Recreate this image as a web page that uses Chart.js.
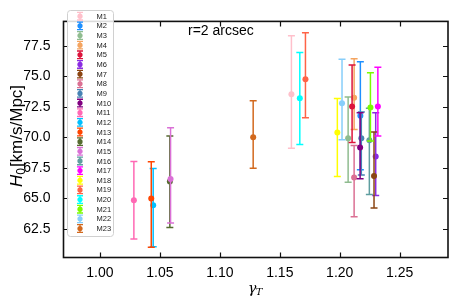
<!DOCTYPE html>
<html><head><meta charset="utf-8">
<script src="https://cdn.jsdelivr.net/npm/chart.js@4/dist/chart.umd.min.js"></script>
<style>html,body{margin:0;padding:0;background:#fff}canvas{display:block}</style>
</head><body>
<canvas id="c" width="457" height="306"></canvas>
<script>
const labels = ['M1','M2','M3','M4','M5','M6','M7','M8','M9','M10','M11','M12','M13','M14','M15','M16','M17','M18','M19','M20','M21','M22','M23'];
const gammaT = [1.1597,1.2172,1.2070,1.2120,1.2103,1.2300,1.2286,1.2120,1.2180,1.2170,1.0283,1.0444,1.0428,1.0583,1.0589,1.2247,1.2318,1.1980,1.1714,1.1667,1.2256,1.2019,1.1278];
const h0 = [73.53,71.76,69.92,73.23,72.53,68.43,66.83,66.70,69.92,69.17,64.84,64.43,64.97,66.37,66.58,69.75,72.53,70.39,74.76,73.20,72.45,72.79,70.00];
const h0Upper = [78.33,76.19,73.30,76.44,75.93,72.00,70.44,69.33,72.07,72.00,68.01,67.43,67.99,70.10,70.78,72.38,75.75,73.17,78.56,76.96,75.28,76.40,72.99];
const h0Lower = [69.10,67.33,66.31,70.64,69.56,65.23,64.20,63.48,66.90,66.60,61.65,61.03,60.98,62.60,62.96,65.30,70.10,66.78,71.60,69.40,69.70,69.79,67.45];
const colors = ['#FFC0CB','#1E90FF','#8FBC8F','#F4A460','#DC143C','#8A2BE2','#8B4513','#DB7093','#4682B4','#800080','#FF69B4','#00BFFF','#FF4500','#556B2F','#DA70D6','#5F9EA0','#FF00FF','#FFFF00','#FF6347','#00FFFF','#7CFC00','#87CEFA','#D2691E'];
const xTickValues = [1.00,1.05,1.10,1.15,1.20,1.25];
const xTickLabels = ['1.00','1.05','1.10','1.15','1.20','1.25'];
const yTickValues = [62.5,65.0,67.5,70.0,72.5,75.0,77.5];
const yTickLabels = ['62.5','65.0','67.5','70.0','72.5','75.0','77.5'];
const titleText = 'r=2 arcsec';

const FONT = '"Liberation Sans", Arial, sans-serif';
const N = labels.length;

const datasets = labels.map((lab, i) => ({
  label: lab,
  data: [{x: gammaT[i], y: h0[i]}],
  backgroundColor: colors[i],
  borderColor: colors[i],
  borderWidth: 0,
  pointRadius: 3,
  pointHoverRadius: 3,
  order: N - i
}));

function drawErrBar(ctx, x, yTop, yBot, color, cap, lw) {
  ctx.strokeStyle = color; ctx.lineWidth = lw;
  ctx.beginPath();
  ctx.moveTo(x, yTop); ctx.lineTo(x, yBot);
  ctx.moveTo(x - cap, yTop); ctx.lineTo(x + cap, yTop);
  ctx.moveTo(x - cap, yBot); ctx.lineTo(x + cap, yBot);
  ctx.stroke();
}

const errorBarPlugin = {
  id: 'errbars',
  beforeDatasetDraw(chart, args) {
    const i = args.index;
    const xs = chart.scales.x, ys = chart.scales.y, ctx = chart.ctx, a = chart.chartArea;
    ctx.save();
    ctx.beginPath(); ctx.rect(a.left, a.top, a.right - a.left, a.bottom - a.top); ctx.clip();
    const px = xs.getPixelForValue(gammaT[i]);
    drawErrBar(ctx, px, ys.getPixelForValue(h0Upper[i]), ys.getPixelForValue(h0Lower[i]), colors[i], 3.5, 1.5);
    ctx.restore();
  }
};

const decorPlugin = {
  id: 'decor',
  afterDraw(chart) {
    const ctx = chart.ctx, a = chart.chartArea, xs = chart.scales.x, ys = chart.scales.y;
    ctx.save();
    ctx.strokeStyle = '#111'; ctx.lineWidth = 1.2;
    ctx.beginPath();
    xTickValues.forEach(v => {
      const p = Math.round(xs.getPixelForValue(v)) + 0.5;
      ctx.moveTo(p, a.bottom); ctx.lineTo(p, a.bottom - 5);
      ctx.moveTo(p, a.top); ctx.lineTo(p, a.top + 5);
    });
    yTickValues.forEach(v => {
      const p = Math.round(ys.getPixelForValue(v)) + 0.5;
      ctx.moveTo(a.left, p); ctx.lineTo(a.left + 5, p);
      ctx.moveTo(a.right, p); ctx.lineTo(a.right - 5, p);
    });
    ctx.stroke();
    ctx.lineWidth = 1.6; ctx.strokeStyle = '#111';
    ctx.strokeRect(a.left, a.top, a.right - a.left, a.bottom - a.top);

    ctx.fillStyle = '#000'; ctx.font = '14px ' + FONT;
    ctx.textAlign = 'left'; ctx.textBaseline = 'middle';
    ctx.fillText(titleText, 188, 31);

    const lx = 67, ly = 10, lw = 46, lh = 226;
    ctx.fillStyle = 'rgba(255,255,255,0.85)';
    ctx.strokeStyle = '#d0d0d0'; ctx.lineWidth = 1;
    ctx.beginPath();
    if (ctx.roundRect) ctx.roundRect(lx + 0.5, ly + 0.5, lw, lh, 3); else ctx.rect(lx + 0.5, ly + 0.5, lw, lh);
    ctx.fill(); ctx.stroke();
    ctx.font = '7.5px ' + FONT; ctx.textBaseline = 'middle';
    labels.forEach((lab, i) => {
      const cy = 16.2 + i * 9.65, cx = 80;
      drawErrBar(ctx, cx, cy - 3.8, cy + 3.8, colors[i], 3, 1.3);
      ctx.fillStyle = colors[i];
      ctx.beginPath(); ctx.arc(cx, cy, 2.6, 0, Math.PI * 2); ctx.fill();
      ctx.fillStyle = '#222';
      ctx.fillText(lab, 96.5, cy + 0.5);
    });

    ctx.fillStyle = '#000';
    ctx.font = 'italic 14px "DejaVu Serif", serif';
    ctx.textBaseline = 'alphabetic'; ctx.textAlign = 'left';
    const gx = 248, gy = 293;
    ctx.fillText('γ', gx, gy);
    const gw = ctx.measureText('γ').width;
    ctx.font = 'italic 10px "DejaVu Serif", serif';
    ctx.fillText('T', gx + gw - 0.5, gy + 2);

    ctx.save();
    ctx.translate(22, 136);
    ctx.rotate(-Math.PI / 2);
    const p1 = 'H', p2 = '0', p3 = '[km/s/Mpc]';
    ctx.font = 'italic 17px ' + FONT; const w1 = ctx.measureText(p1).width;
    ctx.font = '12px ' + FONT; const w2 = ctx.measureText(p2).width;
    ctx.font = '17px ' + FONT; const w3 = ctx.measureText(p3).width;
    let sx = -(w1 + w2 + w3 + 1) / 2;
    ctx.textBaseline = 'alphabetic';
    ctx.font = 'italic 17px ' + FONT; ctx.fillText(p1, sx, 0); sx += w1;
    ctx.font = '12px ' + FONT; ctx.fillText(p2, sx, 3); sx += w2 + 1;
    ctx.font = '17px ' + FONT; ctx.fillText(p3, sx, 0);
    ctx.restore();

    ctx.restore();
  }
};

new Chart(document.getElementById('c'), {
  type: 'scatter',
  data: { datasets },
  options: {
    responsive: false,
    animation: false,
    devicePixelRatio: 1,
    layout: { padding: { top: 7, right: 9, left: 0, bottom: 0 } },
    plugins: { legend: { display: false }, tooltip: { enabled: false }, title: { display: false } },
    scales: {
      x: {
        type: 'linear', min: 0.9696, max: 1.2903,
        grid: { display: false, drawTicks: false },
        border: { display: false },
        afterBuildTicks: s => { s.ticks = xTickValues.map(v => ({ value: v })); },
        afterFit: s => { s.height = 48.5; },
        ticks: { color: '#000', font: { family: FONT, size: 14 }, padding: 7, maxRotation: 0, autoSkip: false,
                 callback: (v, i) => xTickLabels[i] }
      },
      y: {
        type: 'linear', min: 60.14, max: 79.5,
        grid: { display: false, drawTicks: false },
        border: { display: false },
        afterBuildTicks: s => { s.ticks = yTickValues.map(v => ({ value: v })); },
        afterFit: s => { s.width = 63.5; },
        ticks: { color: '#000', font: { family: FONT, size: 14 }, padding: 13, autoSkip: false,
                 callback: (v, i) => yTickLabels[i] }
      }
    }
  },
  plugins: [errorBarPlugin, decorPlugin]
});
</script>
</body></html>
